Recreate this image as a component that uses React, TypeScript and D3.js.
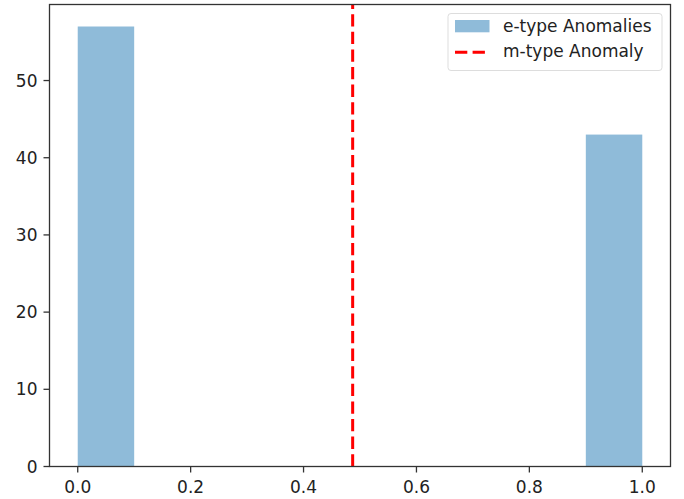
import React from "react";
import * as d3 from "d3";

const binEdges = [0, 0.1, 0.2, 0.3, 0.4, 0.5, 0.6, 0.7, 0.8, 0.9, 1.0];
const binCounts = [57, 0, 0, 0, 0, 0, 0, 0, 0, 43];
const mTypeValue = 0.487;
const xTicks = [0, 0.2, 0.4, 0.6, 0.8, 1.0];
const yTicks = [0, 10, 20, 30, 40, 50];
const legendLabels = ["e-type Anomalies", "m-type Anomaly"];

export default function App() {
  const W = 684, H = 499;
  const left = 49.5, right = 670.5, top = 4.5, bottom = 466.5;
  const x = d3.scaleLinear().domain([-0.05, 1.05]).range([left, right]);
  const y = d3.scaleLinear().domain([0, 59.85]).range([bottom, top]);
  const font = "DejaVu Sans, sans-serif";
  const fs = 17;
  const barColor = "rgb(143,187,217)";
  const dash = "12.3,5.3";

  return (
    <svg width={W} height={H} style={{ position: "absolute", left: 0, top: 0 }}>
      <rect x={0} y={0} width={W} height={H} fill="white" />
      {binCounts.map((c, i) =>
        c > 0 ? (
          <rect
            key={i}
            x={x(binEdges[i])}
            y={y(c)}
            width={x(binEdges[i + 1]) - x(binEdges[i])}
            height={y(0) - y(c)}
            fill={barColor}
          />
        ) : null
      )}
      <line
        x1={x(mTypeValue)}
        x2={x(mTypeValue)}
        y1={bottom}
        y2={top}
        stroke="red"
        strokeWidth={3}
        strokeDasharray={dash}
      />
      <rect x={left} y={top} width={right - left} height={bottom - top} fill="none" stroke="#333" strokeWidth={1.3} />
      {xTicks.map((t) => (
        <g key={t}>
          <line x1={x(t)} x2={x(t)} y1={bottom} y2={bottom + 6} stroke="#333" strokeWidth={1.3} />
          <text x={x(t)} y={bottom + 26} textAnchor="middle" fontFamily={font} fontSize={fs} fill="#222">
            {t.toFixed(1)}
          </text>
        </g>
      ))}
      {yTicks.map((t) => (
        <g key={t}>
          <line x1={left - 6} x2={left} y1={y(t)} y2={y(t)} stroke="#333" strokeWidth={1.3} />
          <text x={left - 12} y={y(t)} dy="0.36em" textAnchor="end" fontFamily={font} fontSize={fs} fill="#222">
            {t}
          </text>
        </g>
      ))}
      <g>
        <rect x={448} y={13.5} width={214} height={57} rx={3} fill="white" fillOpacity={0.8} stroke="#ddd" strokeWidth={1} />
        <rect x={455} y={20} width={34.5} height={12.3} fill={barColor} />
        <text x={503} y={31.7} fontFamily={font} fontSize={fs} fill="#222">{legendLabels[0]}</text>
        <line x1={455} x2={489.5} y1={52.3} y2={52.3} stroke="red" strokeWidth={3} strokeDasharray={dash} />
        <text x={503} y={57.3} fontFamily={font} fontSize={fs} fill="#222">{legendLabels[1]}</text>
      </g>
    </svg>
  );
}
